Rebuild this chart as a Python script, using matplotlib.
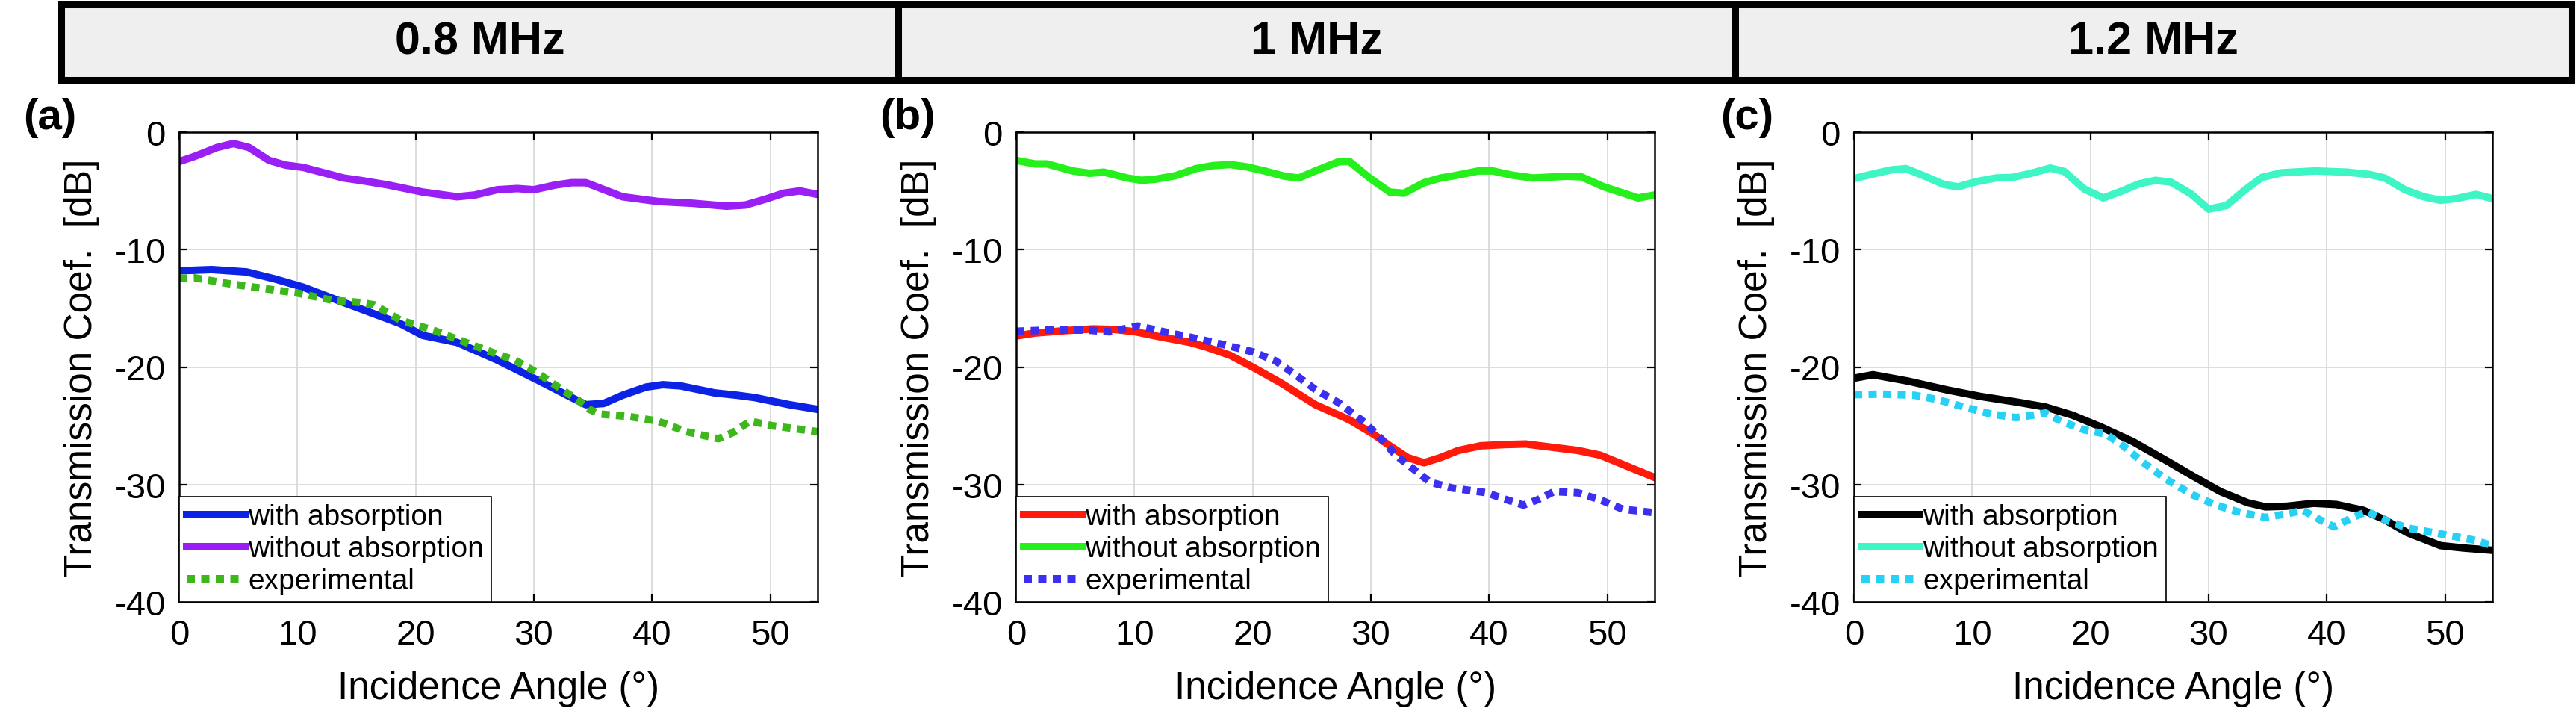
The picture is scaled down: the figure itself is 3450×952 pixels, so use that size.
import matplotlib
matplotlib.use("Agg")
import matplotlib.pyplot as plt
from matplotlib.patches import Rectangle

plt.rcParams['font.family'] = ['Liberation Sans', 'DejaVu Sans']
plt.rcParams['axes.unicode_minus'] = False

# ---- data ----
freq_titles = ['0.8 MHz', '1 MHz', '1.2 MHz']
panel_tags = ['(a)', '(b)', '(c)']
legend_labels = ['with absorption', 'without absorption', 'experimental']

# (a) 0.8 MHz
a_abs_x = [0, 2.75, 5.7, 8.1, 10.5, 13.9, 18.7, 20.6, 23.5, 26.9, 30.3, 33.2, 34.4, 35.9, 37.5, 39.5, 40.9, 42.4, 45.3, 47.2, 48.7, 51.6, 54]
a_abs_y = [-11.8, -11.7, -11.9, -12.5, -13.2, -14.5, -16.3, -17.3, -17.9, -19.4, -21.1, -22.6, -23.2, -23.1, -22.4, -21.7, -21.5, -21.6, -22.2, -22.4, -22.6, -23.2, -23.6]
a_noabs_x = [0, 1.3, 3.2, 4.6, 5.9, 7.6, 9.0, 10.5, 13.9, 15.3, 17.7, 20.6, 23.5, 25, 26.9, 28.6, 30, 31.8, 33.2, 34.4, 37.5, 40.5, 43.4, 46.3, 47.9, 49.6, 51.1, 52.5, 54]
a_noabs_y = [-2.5, -2.06, -1.3, -0.96, -1.3, -2.4, -2.8, -3.0, -3.9, -4.1, -4.5, -5.1, -5.5, -5.35, -4.9, -4.8, -4.9, -4.5, -4.3, -4.3, -5.5, -5.9, -6.05, -6.3, -6.2, -5.7, -5.2, -5.0, -5.3]
a_exp_x = [0, 1.3, 4.2, 7.1, 10, 12.9, 15.3, 16.5, 18.7, 21.6, 24.5, 26.9, 28.4, 30.3, 32.2, 33.7, 34.7, 35.6, 38, 40.5, 42.9, 45.6, 46.8, 48.3, 50.2, 54]
a_exp_y = [-12.45, -12.4, -12.9, -13.3, -13.7, -14.3, -14.5, -14.7, -16.0, -16.9, -18.0, -18.9, -19.4, -20.5, -21.8, -22.8, -23.6, -24.0, -24.2, -24.6, -25.5, -26.1, -25.6, -24.6, -25.0, -25.5]

# (b) 1 MHz
b_abs_x = [0, 1.6, 4.1, 6.5, 8.4, 10.1, 12.3, 14.7, 16.1, 18.1, 20, 22.4, 25.3, 28.2, 30.2, 31.6, 33.1, 34.5, 35.9, 37.4, 39.3, 41.2, 43.1, 45.1, 47.5, 49.4, 52.3, 54]
b_abs_y = [-17.35, -17.1, -16.9, -16.75, -16.8, -17.0, -17.45, -17.9, -18.3, -19.0, -20.0, -21.35, -23.2, -24.5, -25.7, -26.7, -27.7, -28.15, -27.7, -27.1, -26.7, -26.6, -26.55, -26.8, -27.1, -27.5, -28.7, -29.4]
b_noabs_x = [0, 1.6, 2.6, 4.8, 6.2, 7.4, 9.4, 10.6, 11.8, 13.5, 15.2, 16.6, 18.1, 19.5, 21, 22.7, 23.9, 25.3, 27.3, 28.2, 29.9, 31.6, 32.8, 34.5, 35.9, 37.1, 39.1, 40.3, 41.9, 43.7, 46.6, 47.8, 49.7, 52.6, 54]
b_noabs_y = [-2.4, -2.7, -2.7, -3.3, -3.5, -3.4, -3.9, -4.1, -4.0, -3.7, -3.1, -2.85, -2.75, -2.95, -3.3, -3.75, -3.9, -3.3, -2.5, -2.5, -3.9, -5.1, -5.2, -4.3, -3.9, -3.7, -3.3, -3.3, -3.65, -3.9, -3.75, -3.8, -4.65, -5.6, -5.35]
b_exp_x = [0, 2.6, 6, 7.9, 10.3, 12.3, 14.7, 17.6, 20, 21.9, 23.4, 25.3, 27.3, 29.2, 30.6, 32.1, 33.5, 35, 36.9, 39.8, 41.2, 42.9, 44.1, 45.5, 47.5, 49.4, 51.3, 54]
b_exp_y = [-16.95, -16.85, -16.85, -17.0, -16.5, -16.95, -17.45, -18.1, -18.7, -19.45, -20.5, -21.9, -23.05, -24.5, -25.8, -27.5, -28.6, -29.8, -30.3, -30.7, -31.2, -31.75, -31.3, -30.6, -30.7, -31.3, -32.1, -32.4]

# (c) 1.2 MHz
c_abs_x = [0, 1.6, 4.6, 7.9, 10.7, 13.9, 16.2, 18.5, 20.9, 23.6, 26.4, 28.7, 31, 33.3, 34.8, 36.6, 38.9, 40.8, 43.1, 44.9, 46.8, 49.6, 51.5, 54]
c_abs_y = [-20.95, -20.65, -21.2, -21.95, -22.5, -23.0, -23.4, -24.1, -25.1, -26.35, -27.95, -29.3, -30.6, -31.55, -31.9, -31.85, -31.6, -31.7, -32.2, -33.0, -34.1, -35.2, -35.4, -35.6]
c_noabs_x = [0, 1.85, 3.2, 4.4, 6, 7.6, 8.8, 10.4, 12, 13.4, 15, 16.6, 17.8, 19.5, 21.1, 22.7, 24.1, 25.5, 26.8, 28.5, 30, 31.5, 33.1, 34.5, 36.2, 39, 41.7, 43.6, 44.9, 46.6, 48.2, 49.6, 51, 52.6, 54]
c_noabs_y = [-3.95, -3.5, -3.2, -3.1, -3.75, -4.45, -4.65, -4.2, -3.9, -3.85, -3.5, -3.05, -3.35, -4.85, -5.6, -5.0, -4.4, -4.1, -4.25, -5.25, -6.55, -6.25, -4.9, -3.85, -3.45, -3.3, -3.4, -3.6, -3.9, -4.9, -5.5, -5.8, -5.65, -5.3, -5.65]
c_exp_x = [0, 2.3, 5.1, 7, 9.3, 11.6, 13.7, 15.1, 16.2, 17.6, 19.5, 21.3, 22.7, 24.5, 26.4, 28.7, 30.6, 32.4, 34.8, 36.6, 38, 39.4, 40.6, 42.2, 43.4, 44.9, 46.8, 49.6, 52.3, 54]
c_exp_y = [-22.35, -22.3, -22.4, -22.75, -23.4, -24.0, -24.3, -24.1, -23.9, -24.65, -25.35, -25.7, -26.65, -28.15, -29.55, -30.9, -31.75, -32.3, -32.8, -32.5, -32.2, -33.0, -33.6, -32.8, -32.3, -33.0, -33.7, -34.2, -34.7, -35.2]

panels = [
    [(a_abs_x, a_abs_y), (a_noabs_x, a_noabs_y), (a_exp_x, a_exp_y)],
    [(b_abs_x, b_abs_y), (b_noabs_x, b_noabs_y), (b_exp_x, b_exp_y)],
    [(c_abs_x, c_abs_y), (c_noabs_x, c_noabs_y), (c_exp_x, c_exp_y)],
]
panel_colors = [
    ['#0c22e4', '#9a1ff4', '#3db71c'],
    ['#ff1a0c', '#26f01c', '#3c2ff0'],
    ['#000000', '#3ef5c6', '#27d0f5'],
]

W, H = 3450, 953
fig = plt.figure(figsize=(W / 100, H / 100), dpi=100)

# header bar with the three frequencies
box_edges = [82, 1203, 2324, 3444]
for i, title in enumerate(freq_titles):
    x0, x1 = box_edges[i], box_edges[i + 1]
    fig.patches.append(Rectangle((x0 / W, 1 - 108 / H), (x1 - x0) / W, 101 / H,
                                 transform=fig.transFigure, facecolor='#efefef',
                                 edgecolor='black', linewidth=6.5, zorder=0))
    fig.text((x0 + x1) / 2 / W, 1 - 57 / H, title, ha='center', va='center',
             fontsize=44, fontweight='bold')

axes_left = [240, 1361, 2483]
tag_x = [67, 1215, 2340]
for i in range(3):
    ax = fig.add_axes([axes_left[i] / W, (H - 807) / H, 855 / W, 629 / H])
    lines = []
    for j, (xs, ys) in enumerate(panels[i]):
        if j == 2:
            ln, = ax.plot(xs, ys, color=panel_colors[i][j], lw=7.2,
                          linestyle=(0, (1.1, 0.85)), dash_capstyle='butt')
        else:
            ln, = ax.plot(xs, ys, color=panel_colors[i][j], lw=7.2,
                          solid_joinstyle='round')
        lines.append(ln)
    ax.set_xlim(0, 54)
    ax.set_ylim(-40, 0)
    ax.set_xticks([0, 10, 20, 30, 40, 50])
    ax.set_yticks([-40, -30, -20, -10, 0])
    ax.grid(True, color='#d3d8d8', lw=1.2)
    ax.tick_params(direction='in', top=True, right=True, length=7, width=1.6,
                   labelsize=34)
    ax.tick_params(axis='x', pad=16)
    ax.tick_params(axis='y', pad=13)
    for sp in ax.spines.values():
        sp.set_linewidth(1.8)
    ax.set_xlabel('Incidence Angle (°)', fontsize=37, labelpad=18)
    ax.set_ylabel('Transmission Coef.  [dB]', fontsize=37, labelpad=14)
    leg = ax.legend(lines, legend_labels, loc='lower left', fontsize=28,
                    frameon=True, fancybox=False, edgecolor='black',
                    framealpha=1, borderaxespad=0, handlelength=2.0,
                    handletextpad=0.12, labelspacing=0.18, borderpad=0.25)
    leg.get_frame().set_linewidth(1.2)
    fig.text(tag_x[i] / W, 1 - 158 / H, panel_tags[i], ha='center', va='center',
             fontsize=42, fontweight='bold')

fig.savefig('out.png', dpi=100)
